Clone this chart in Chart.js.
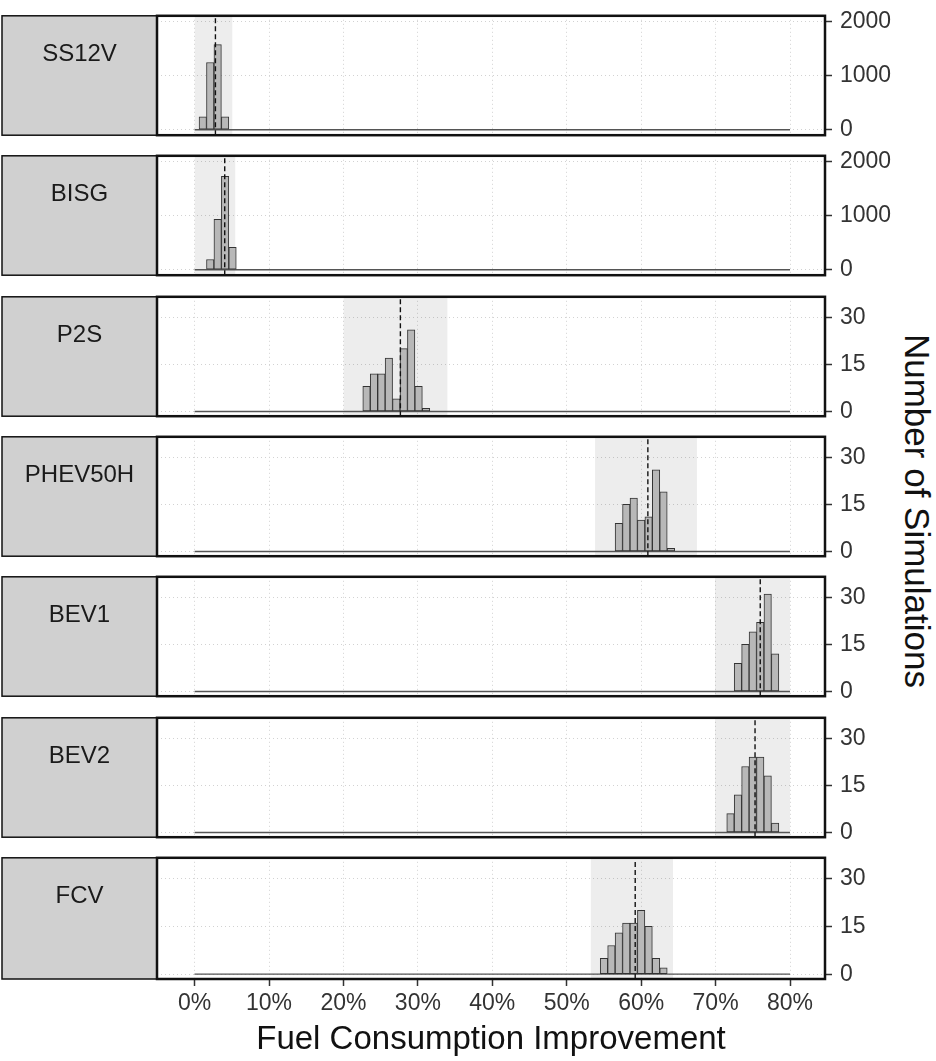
<!DOCTYPE html>
<html>
<head>
<meta charset="utf-8">
<script src="https://cdn.jsdelivr.net/npm/chart.js@4.4.1/dist/chart.umd.min.js"></script>
<style>
  body { margin: 0; background: #fff; width: 936px; height: 1061px; position: relative; overflow: hidden;
         font-family: "Liberation Sans", Arial, sans-serif; }
  canvas { position: absolute; left: 0; }
  #ytitle { position: absolute; left: 917px; top: 511px; transform: translate(-50%, -50%);
            writing-mode: vertical-rl; font-size: 35px; color: #111; white-space: nowrap; }
</style>
</head>
<body>
<div id="ytitle">Number of Simulations</div>
<script>
const panelNames = ['SS12V', 'BISG', 'P2S', 'PHEV50H', 'BEV1', 'BEV2', 'FCV'];
const xTicks = [0, 10, 20, 30, 40, 50, 60, 70, 80];
const bigTicks = [0, 1000, 2000];
const smallTicks = [0, 15, 30];

// histogram bins (centre, %) and counts
const ss12vBins = [1.1, 2.1, 3.1, 4.1];
const ss12vCounts = [240, 1240, 1570, 240];
const bisgBins = [2.1, 3.1, 4.1, 5.1];
const bisgCounts = [190, 930, 1720, 415];
const p2sBins = [23.1, 24.1, 25.1, 26.1, 27.1, 28.1, 29.1, 30.1, 31.1];
const p2sCounts = [8, 12, 12, 17, 4, 20, 26, 8, 1];
const phevBins = [57, 58, 59, 60, 61, 62, 63, 64];
const phevCounts = [9, 15, 17, 10, 11, 26, 19, 1];
const bev1Bins = [73, 74, 75, 76, 77, 78];
const bev1Counts = [9, 15, 19, 22, 31, 12];
const bev2Bins = [72, 73, 74, 75, 76, 77, 78];
const bev2Counts = [6, 12, 21, 24, 24, 18, 3];
const fcvBins = [55, 56, 57, 58, 59, 60, 61, 62, 63];
const fcvCounts = [5, 9, 13, 16, 16, 20, 15, 5, 2];

// mean (dashed line) and shaded range per panel
const means = [2.8, 4.05, 27.65, 60.9, 76.0, 75.3, 59.2];
const bandLow = [0, 0, 20, 53.8, 69.9, 69.9, 53.2];
const bandHigh = [5.1, 5.5, 34, 67.5, 80, 80, 64.3];

const allBins = [ss12vBins, bisgBins, p2sBins, phevBins, bev1Bins, bev2Bins, fcvBins];
const allCounts = [ss12vCounts, bisgCounts, p2sCounts, phevCounts, bev1Counts, bev2Counts, fcvCounts];

Chart.defaults.font.family = '"Liberation Sans", Arial, sans-serif';

const M = 20;          // margin round each panel inside its canvas
const panelH = 123;
const stripLeft = 2;

const panelFrame = {
  id: 'panelFrame',
  beforeDraw(chart, args, opts) {
    const { ctx, chartArea: a } = chart;
    ctx.save();
    ctx.fillStyle = '#d0d0d0';
    ctx.fillRect(stripLeft, a.top, a.left - stripLeft, a.bottom - a.top);
    ctx.strokeStyle = '#111';
    ctx.lineWidth = 1.5;
    ctx.strokeRect(stripLeft, a.top, a.left - stripLeft, a.bottom - a.top);
    ctx.fillStyle = '#1a1a1a';
    ctx.font = '24px "Liberation Sans", Arial, sans-serif';
    ctx.textAlign = 'center';
    ctx.textBaseline = 'middle';
    ctx.fillText(opts.label, (stripLeft + a.left) / 2, a.top + 39);
    ctx.restore();
  },
  afterDraw(chart) {
    const { ctx, chartArea: a } = chart;
    ctx.save();
    ctx.strokeStyle = '#111';
    ctx.lineWidth = 2.5;
    ctx.strokeRect(a.left, a.top, a.right - a.left, a.bottom - a.top);
    ctx.restore();
  }
};

panelNames.forEach(function (name, i) {
  const last = i === panelNames.length - 1;
  const big = i < 2;
  const top = Math.round(14 + i * 140.33);
  const height = last ? 1061 - (top - M) : panelH + 2 * M;
  const yMin = big ? -100 : -1.5;
  const yMax = big ? 2100 : 36.5;
  const yTicks = big ? bigTicks : smallTicks;

  const cv = document.createElement('canvas');
  cv.width = 936;
  cv.height = height;
  cv.style.top = (top - M) + 'px';
  document.body.appendChild(cv);

  const bars = allBins[i].map((x, k) => ({ x: x, y: allCounts[i][k] }));

  new Chart(cv.getContext('2d'), {
    type: 'bar',
    data: {
      datasets: [
        {
          type: 'bar', data: bars, order: 2,
          backgroundColor: '#b8b8b8', borderColor: '#333', borderWidth: 1, borderSkipped: false,
          barPercentage: 1, categoryPercentage: 1
        },
        {
          type: 'line', order: 4,
          data: [{ x: bandLow[i], y: yMax }, { x: bandHigh[i], y: yMax }],
          fill: 'start', backgroundColor: 'rgba(0,0,0,0.07)', borderWidth: 0, pointRadius: 0
        },
        {
          type: 'line', order: 3,
          data: [{ x: xTicks[0], y: 0 }, { x: xTicks[xTicks.length - 1], y: 0 }],
          borderColor: '#555', borderWidth: 1.3, pointRadius: 0, fill: false
        },
        {
          type: 'line', order: 1,
          data: [{ x: means[i], y: yMin }, { x: means[i], y: yMax }],
          borderColor: '#111', borderWidth: 1.4, borderDash: [5, 3], pointRadius: 0, fill: false
        }
      ]
    },
    options: {
      responsive: false,
      animation: false,
      devicePixelRatio: 1,
      events: [],
      layout: { padding: { left: 157, top: M, right: 0, bottom: 0 } },
      plugins: {
        legend: { display: false },
        tooltip: { enabled: false },
        panelFrame: { label: name }
      },
      scales: {
        x: {
          type: 'linear', min: -5.05, max: 84.7, offset: false,
          afterBuildTicks: s => { s.ticks = xTicks.map(v => ({ value: v })); },
          afterFit: s => { s.height = last ? 82 : M; },
          grid: { offset: false, color: '#d2d2d2', lineWidth: 1, drawTicks: last, tickLength: 7,
                  tickColor: '#333', tickWidth: 1.5 },
          border: { display: false, dash: [1, 3] },
          ticks: { display: last, color: '#333', font: { size: 23 }, padding: 4,
                   maxRotation: 0, autoSkip: false, callback: v => v + '%' },
          title: { display: last, text: 'Fuel Consumption Improvement', color: '#111',
                   font: { size: 33 }, padding: { top: 2, bottom: 1 } }
        },
        y: {
          position: 'right', min: yMin, max: yMax,
          afterBuildTicks: s => { s.ticks = yTicks.map(v => ({ value: v })); },
          afterFit: s => { s.width = 111; },
          grid: { color: '#d2d2d2', lineWidth: 1, tickLength: 7, tickColor: '#333', tickWidth: 1.5 },
          border: { display: false, dash: [1, 3] },
          ticks: { color: '#333', font: { size: 23 }, padding: 8, callback: v => String(v) }
        }
      }
    },
    plugins: [panelFrame]
  });
});
</script>
</body>
</html>
